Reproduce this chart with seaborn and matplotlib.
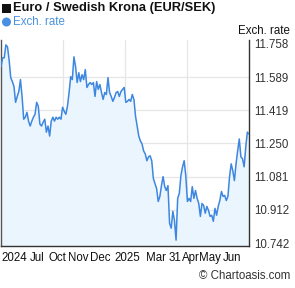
import matplotlib
matplotlib.use("Agg")
import matplotlib.pyplot as plt
import matplotlib.patches as mpatches
import seaborn as sns
import numpy as np
import pandas as pd

rates = [
    11.642, 11.687, 11.687, 11.753, 11.743, 11.677, 11.586, 11.566, 11.541, 11.460,
    11.490, 11.515, 11.576, 11.490, 11.374, 11.384, 11.409, 11.364, 11.339, 11.364,
    11.384, 11.399, 11.460, 11.440, 11.349, 11.339, 11.359, 11.374, 11.308, 11.339,
    11.288, 11.364, 11.384, 11.364, 11.384, 11.374, 11.384, 11.374, 11.435, 11.414,
    11.399, 11.440, 11.510, 11.591, 11.576, 11.692, 11.642, 11.561, 11.611, 11.566,
    11.601, 11.576, 11.627, 11.536, 11.551, 11.561, 11.551, 11.561, 11.490, 11.566,
    11.526, 11.551, 11.510, 11.475, 11.510, 11.500, 11.586, 11.510, 11.490, 11.465,
    11.485, 11.510, 11.515, 11.490, 11.515, 11.526, 11.536, 11.460, 11.465, 11.475,
    11.465, 11.500, 11.475, 11.389, 11.339, 11.288, 11.263, 11.248, 11.212, 11.197,
    11.162, 11.182, 11.187, 11.162, 11.071, 11.045, 11.020, 10.954, 10.980, 11.035,
    11.081, 11.030, 11.010, 11.035, 10.843, 10.818, 10.904, 10.858, 10.757, 10.970,
    10.995, 11.086, 11.131, 11.162, 11.086, 10.954, 10.970, 10.954, 11.030, 10.970,
    11.010, 10.970, 10.944, 10.878, 10.944, 10.934, 10.894, 10.929, 10.909, 10.878,
    10.884, 10.853, 10.919, 10.884, 10.929, 10.959, 11.005, 10.980, 10.985, 10.959,
    10.980, 11.081, 11.146, 11.111, 11.061, 11.146, 11.212, 11.273, 11.182, 11.172,
    11.131, 11.232, 11.308, 11.298,
]
y_ticks = [10.742, 10.912, 11.081, 11.250, 11.419, 11.589, 11.758]
x_labels = ["2024", "Jul", "Oct", "Nov", "Dec", "2025", "Mar", "31", "Apr", "May", "Jun"]
title = "Euro / Swedish Krona (EUR/SEK)"
series_name = "Exch. rate"

df = pd.DataFrame({"t": np.arange(len(rates)), "rate": rates})
n = len(rates) - 1

W, H = 295, 288
fig = plt.figure(figsize=(W / 100, H / 100), dpi=100)
sns.set_style("white")
plt.rcParams["font.family"] = ["Liberation Sans", "DejaVu Sans"]

ax = fig.add_axes([1 / W, (H - 246) / H, 248 / W, 206 / H])
line_c = "#3d87e0"
ax.fill_between(df["t"], df["rate"], 10.0, color="#ebf5fe", lw=0, zorder=1)
sns.lineplot(data=df, x="t", y="rate", ax=ax, color=line_c, lw=1.1, zorder=3)

ax.set_xlim(0, n)
ax.set_ylim(10.727, 11.778)
ax.set_xlabel("")
ax.set_ylabel("")

# grid
for v in y_ticks[1:-1]:
    ax.axhline(v, color="#e6e6e6", lw=0.9, zorder=0.5)
for f in (0.25, 0.5, 0.75):
    ax.axvline(n * f, color="#e6e6e6", lw=0.9, zorder=0.5)

ax.yaxis.tick_right()
ax.set_yticks(y_ticks)
ax.set_yticklabels([f"{v:.3f}" for v in y_ticks], fontsize=8.3, color="#333333")
ax.tick_params(axis="y", length=0, pad=4)

label_px = [13, 36, 56, 77, 99, 126, 155, 174, 190, 209, 231]
ax.set_xticks([p / 248 * n for p in label_px])
ax.set_xticklabels(x_labels, fontsize=8.3, color="#111111")
ax.tick_params(axis="x", length=0, pad=4)

ax.spines["top"].set_visible(False)
for s in ("left", "right", "bottom"):
    ax.spines[s].set_visible(True)
    ax.spines[s].set_color("#333333")
    ax.spines[s].set_linewidth(1.0)
ax.spines["left"].set_color("#555555")

# header markers (drawn in figure pixel coordinates)
sq = mpatches.Rectangle((2 / W, 1 - 13 / H), 9 / W, 9 / H, transform=fig.transFigure,
                        color="#111111", lw=0)
fig.patches.append(sq)
circ = mpatches.Ellipse((6.5 / W, 1 - 22 / H), 9 / W, 9 / H, transform=fig.transFigure,
                        color="#4a90e2", lw=0)
fig.patches.append(circ)

fig.text(13 / W, 1 - 8 / H, title, fontsize=9.3, fontweight="bold", color="#111111",
         va="center", ha="left")
fig.text(13 / W, 1 - 22 / H, series_name, fontsize=8.3, color="#4a90e2", va="center", ha="left")
fig.text(290 / W, 1 - 31 / H, series_name, fontsize=8.3, color="#111111", va="center", ha="right")
fig.text(290 / W, 1 - 276 / H, "\u00A9 Chartoasis.com", fontsize=8.3, color="#333333",
         va="center", ha="right")

fig.savefig("out.png", dpi=100)
